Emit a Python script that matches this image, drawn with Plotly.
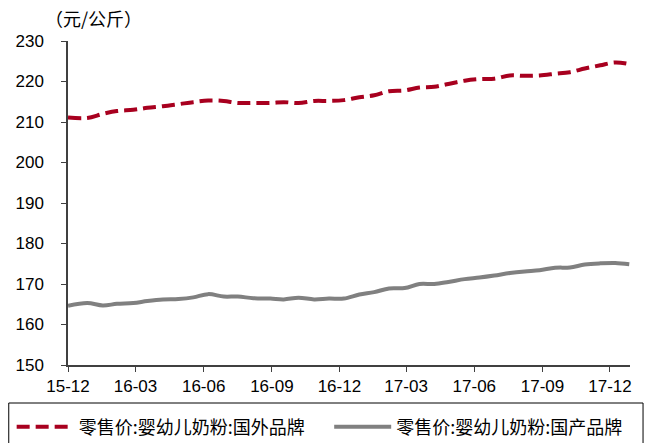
import plotly.graph_objects as go

dates = ['2015-12-01', '2015-12-27', '2016-01-17', '2016-02-05', '2016-02-27', '2016-03-17',
         '2016-04-07', '2016-04-28', '2016-05-18', '2016-06-07', '2016-06-28', '2016-07-17',
         '2016-08-07', '2016-08-30', '2016-09-17', '2016-10-07', '2016-10-28', '2016-11-17',
         '2016-12-07', '2016-12-28', '2017-01-17', '2017-02-06', '2017-02-27', '2017-03-19',
         '2017-04-08', '2017-04-27', '2017-05-19', '2017-06-08', '2017-06-28', '2017-07-19',
         '2017-08-08', '2017-08-28', '2017-09-18', '2017-10-08', '2017-10-28', '2017-11-18',
         '2017-12-08', '2017-12-27']

foreign = [211.1, 211.0, 212.0, 212.7, 213.0, 213.5, 213.9, 214.4, 214.9, 215.3, 215.2, 214.7,
           214.7, 214.7, 214.9, 214.7, 215.2, 215.2, 215.4, 216.1, 216.6, 217.6, 217.8, 218.5,
           218.7, 219.4, 220.2, 220.6, 220.7, 221.5, 221.4, 221.5, 221.9, 222.3, 223.2, 224.0,
           224.7, 224.3]

domestic = [164.6, 165.3, 164.7, 165.1, 165.3, 165.8, 166.2, 166.3, 166.7, 167.5, 166.9, 166.9,
            166.5, 166.4, 166.2, 166.6, 166.2, 166.4, 166.4, 167.4, 168.0, 168.9, 169.0, 170.0,
            170.0, 170.5, 171.2, 171.6, 172.1, 172.7, 173.1, 173.4, 174.0, 174.1, 174.8, 175.1,
            175.2, 174.9]

tick_vals = ['2015-12-01', '2016-03-01', '2016-06-01', '2016-09-01', '2016-12-01',
             '2017-03-01', '2017-06-01', '2017-09-01', '2017-12-01']
tick_text = ['15-12', '16-03', '16-06', '16-09', '16-12', '17-03', '17-06', '17-09', '17-12']

fig = go.Figure()
fig.add_trace(go.Scatter(x=dates, y=foreign, mode='lines', legend='legend',
                         name='零售价:婴幼儿奶粉:国外品牌',
                         line=dict(color='#A8001F', width=4, dash='13px,6px', shape='spline')))
fig.add_trace(go.Scatter(x=dates, y=domestic, mode='lines', legend='legend2',
                         name='零售价:婴幼儿奶粉:国产品牌',
                         line=dict(color='#808080', width=4, shape='spline')))

axis_font = dict(family='Liberation Sans, Arial', size=17, color='#000000')
legend_font = dict(family='Noto Sans CJK SC', size=18, color='#000000')

fig.update_layout(
    width=648, height=443,
    margin=dict(l=68, r=18, t=41, b=78, autoexpand=False),
    plot_bgcolor='white', paper_bgcolor='white',
    showlegend=True,
    legend=dict(orientation='h', xref='container', yref='container',
                x=0.018, y=0.078, xanchor='left', yanchor='top',
                font=legend_font, itemwidth=57, bgcolor='rgba(0,0,0,0)'),
    legend2=dict(orientation='h', xref='container', yref='container',
                 x=0.508, y=0.078, xanchor='left', yanchor='top',
                 font=legend_font, itemwidth=57, bgcolor='rgba(0,0,0,0)'),
    shapes=[dict(type='rect', xref='paper', yref='paper',
                 x0=-0.1054, x1=1.0232, y0=-0.27, y1=-0.1173,
                 line=dict(color='#000000', width=1))],
    annotations=[dict(text='（元/公斤）', xref='paper', yref='paper', x=-0.045, y=1.0,
                      xanchor='left', yanchor='bottom', yshift=8, showarrow=False,
                      font=dict(family='Noto Sans CJK SC', size=18, color='#000000'))],
)
fig.update_xaxes(type='date', range=['2015-12-01', '2017-12-28'],
                 tickvals=tick_vals, ticktext=tick_text, tickfont=axis_font,
                 showgrid=False, zeroline=False, showline=True, linecolor='#404040', linewidth=1.5,
                 ticks='outside', ticklen=5, tickcolor='#404040', automargin=False)
fig.update_yaxes(range=[150, 230], dtick=10, tickfont=axis_font,
                 showgrid=False, zeroline=False, showline=True, linecolor='#404040', linewidth=1.5,
                 ticks='outside', ticklen=5, tickcolor='#404040', ticklabelstandoff=14,
                 automargin=False)

fig.write_html('out.html', config={'displayModeBar': False},
               post_script="document.body.style.margin='0';")
